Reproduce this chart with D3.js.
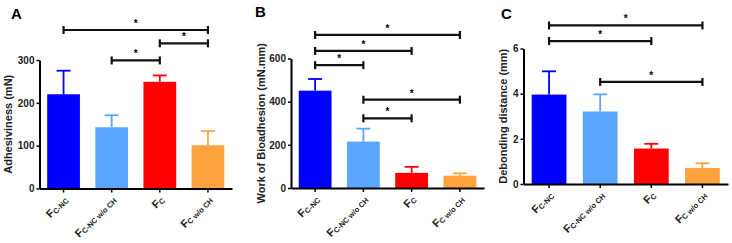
<!DOCTYPE html>
<html>
<head>
<meta charset="utf-8">
<script src="https://d3js.org/d3.v7.min.js"></script>
<style>
  body { margin: 0; background: #fff; }
  text { font-family: "Liberation Sans", Arial, sans-serif; font-weight: bold; }
</style>
</head>
<body>
<div id="chart"></div>
<script>
// groups, drawn as "F" with the group as subscript
var groups = ["C-NC", "C-NC w/o CH", "C", "C w/o CH"];
var barColors = ["#0000ff", "#59a5ff", "#ff0000", "#ffa33f"];

// A - adhesiviness (mN)
var adhMean = [220, 143, 249, 101];
var adhSD = [55, 28, 15, 33];
var adhTicks = [0, 100, 200, 300];
var adhSig = [[0, 3, 370], [2, 3, 339], [1, 2, 299]];

// B - work of bioadhesion (mN.mm)
var workMean = [451, 215, 70, 57];
var workSD = [54, 60, 28, 11];
var workTicks = [0, 200, 400, 600];
var workSig = [[0, 3, 709], [0, 2, 635], [0, 1, 569], [1, 3, 409], [1, 2, 323]];

// C - debonding distance (mm)
var debMean = [3.96, 3.21, 1.57, 0.71];
var debSD = [1.03, 0.76, 0.21, 0.21];
var debTicks = [0, 2, 4, 6];
var debSig = [[0, 3, 7.02], [0, 2, 6.33], [1, 3, 4.52]];

var svg = d3.select("#chart").append("svg")
    .attr("width", 732)
    .attr("height", 243);

// panel layout
var panels = [
  {letter: "A", lx: 11, ly: 19, label: "Adhesiviness (mN)", labX: 12,
   left: 39.5, right: 232, bottom: 188.5, top: 60, max: 300,
   mean: adhMean, sd: adhSD, ticks: adhTicks, sig: adhSig},
  {letter: "B", lx: 255, ly: 17, label: "Work of Bioadhesion (mN.mm)", labX: 265,
   left: 291, right: 484, bottom: 188, top: 58.5, max: 600,
   mean: workMean, sd: workSD, ticks: workTicks, sig: workSig},
  {letter: "C", lx: 501, ly: 19, label: "Debonding distance (mm)", labX: 507,
   left: 523.5, right: 728, bottom: 184, top: 48.5, max: 6,
   mean: debMean, sd: debSD, ticks: debTicks, sig: debSig}
];

panels.forEach(function(p) {
  var g = svg.append("g");

  var x = d3.scaleBand()
    .domain(d3.range(groups.length))
    .range([p.left, p.right])
    .paddingInner(0.32)
    .paddingOuter(0.16);

  var y = d3.scaleLinear()
    .domain([0, p.max])
    .range([p.bottom, p.top]);

  // bars
  g.selectAll(".bar")
    .data(p.mean)
    .enter().append("rect")
    .attr("x", function(d, i) { return x(i); })
    .attr("y", function(d) { return y(d); })
    .attr("width", x.bandwidth())
    .attr("height", function(d) { return y(0) - y(d); })
    .style("fill", function(d, i) { return barColors[i]; });

  // upper error bars
  p.mean.forEach(function(m, i) {
    var cx = x(i) + x.bandwidth() / 2;
    var top = y(m + p.sd[i]);
    g.append("line")
      .attr("x1", cx).attr("x2", cx)
      .attr("y1", y(m)).attr("y2", top)
      .style("stroke", barColors[i]).style("stroke-width", 1.8);
    g.append("line")
      .attr("x1", cx - 7).attr("x2", cx + 7)
      .attr("y1", top).attr("y2", top)
      .style("stroke", barColors[i]).style("stroke-width", 1.8);
  });

  // y axis
  var yAxis = g.append("g")
    .attr("transform", "translate(" + p.left + ",0)")
    .call(d3.axisLeft(y).tickValues(p.ticks).tickFormat(d3.format("d"))
      .tickSize(3).tickSizeOuter(0).tickPadding(2));
  yAxis.selectAll("text").style("font-size", "10px").style("fill", "#222");

  // x axis
  var xAxis = g.append("g")
    .attr("transform", "translate(0," + p.bottom + ")")
    .call(d3.axisBottom(x).tickSize(4).tickSizeOuter(0).tickFormat(""));

  [yAxis, xAxis].forEach(function(a) {
    a.select(".domain").style("stroke", "#000").style("stroke-width", 2);
    a.selectAll(".tick line").style("stroke", "#000").style("stroke-width", 1.5);
  });

  // rotated group labels
  groups.forEach(function(name, i) {
    var cx = x(i) + x.bandwidth() / 2;
    var t = g.append("text")
      .attr("transform", "translate(" + (cx + 5) + "," + (p.bottom + 12) + ") rotate(-45)")
      .attr("text-anchor", "end")
      .style("fill", "#222");
    t.append("tspan").style("font-size", "11px").text("F");
    t.append("tspan").style("font-size", "7.5px").attr("dy", 1).text(name);
  });

  // y label
  g.append("text")
    .attr("transform", "translate(" + p.labX + "," + ((p.bottom + p.top) / 2) + ") rotate(-90)")
    .attr("text-anchor", "middle")
    .style("font-size", "11px")
    .style("fill", "#222")
    .text(p.label);

  // panel letter
  g.append("text")
    .attr("x", p.lx).attr("y", p.ly)
    .style("font-size", "15px")
    .text(p.letter);

  // significance brackets
  p.sig.forEach(function(s) {
    var x1 = x(s[0]) + x.bandwidth() / 2;
    var x2 = x(s[1]) + x.bandwidth() / 2;
    var yy = y(s[2]);
    g.append("line")
      .attr("x1", x1).attr("x2", x2).attr("y1", yy).attr("y2", yy)
      .style("stroke", "#111").style("stroke-width", 2.2);
    [x1, x2].forEach(function(xx) {
      g.append("line")
        .attr("x1", xx).attr("x2", xx).attr("y1", yy - 4).attr("y2", yy + 4)
        .style("stroke", "#111").style("stroke-width", 2.2);
    });
    g.append("text")
      .attr("x", (x1 + x2) / 2).attr("y", yy - 3)
      .attr("text-anchor", "middle")
      .style("font-size", "10px")
      .text("*");
  });
});
</script>
</body>
</html>
